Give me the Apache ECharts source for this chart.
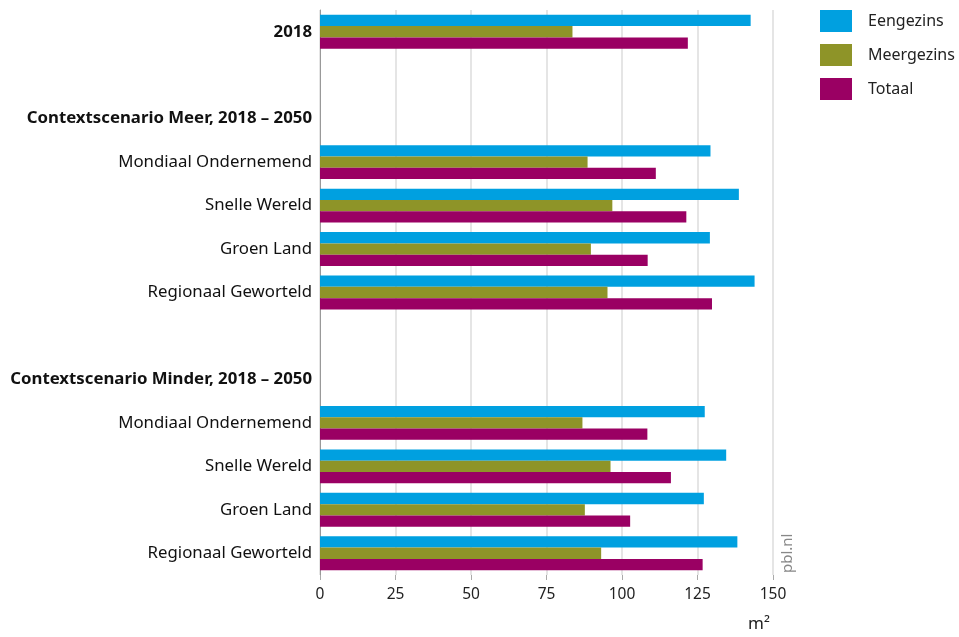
<!DOCTYPE html>
<html>
<head>
<meta charset="utf-8">
<script src="https://cdn.jsdelivr.net/npm/echarts@6/dist/echarts.min.js"></script>
<style>
  html, body { margin: 0; padding: 0; background: #fff; }
  #chart { width: 959px; height: 637px; }
</style>
</head>
<body>
<div id="chart"></div>
<script>
// Gemiddelde woninggrootte (m²) per woningtype en scenario
const categories = [
  '2018',
  '',
  'Contextscenario Meer, 2018 – 2050',
  'Mondiaal Ondernemend',
  'Snelle Wereld',
  'Groen Land',
  'Regionaal Geworteld',
  '',
  'Contextscenario Minder, 2018 – 2050',
  'Mondiaal Ondernemend',
  'Snelle Wereld',
  'Groen Land',
  'Regionaal Geworteld'
];
const headerRows = [0, 2, 8];

const seriesNames = ['Eengezins', 'Meergezins', 'Totaal'];
const eengezins  = [142.6, null, null, 129.3, 138.7, 129.1, 143.9, null, null, 127.4, 134.5, 127.1, 138.2];
const meergezins = [83.6,  null, null, 88.6,  96.8,  89.7,  95.2,  null, null, 86.9,  96.2,  87.7,  93.1];
const totaal     = [121.8, null, null, 111.2, 121.3, 108.5, 129.8, null, null, 108.4, 116.2, 102.7, 126.7];

const xTicks = [0, 25, 50, 75, 100, 125, 150];
const unitLabel = 'm²';
const sourceLabel = 'pbl.nl';

const colors = ['#00a0e0', '#8e9428', '#9a0063'];
const fontFamily = '"Noto Sans", "Open Sans", sans-serif';

const chart = echarts.init(document.getElementById('chart'), null, { renderer: 'canvas' });

const barSeries = [eengezins, meergezins, totaal].map((vals, i) => ({
  name: seriesNames[i],
  type: 'bar',
  data: vals,
  barGap: '0%',
  barCategoryGap: '22%',
  itemStyle: { color: colors[i] },
  emphasis: { disabled: true }
}));

chart.setOption({
  animation: false,
  textStyle: { fontFamily: fontFamily },
  grid: { left: 320, right: 186, top: 10, bottom: 62, containLabel: false },
  legend: {
    orient: 'vertical',
    left: 820,
    top: 10,
    padding: 0,
    itemWidth: 32,
    itemHeight: 22,
    itemGap: 12,
    icon: 'rect',
    data: seriesNames,
    textStyle: { fontSize: 16, color: '#222', padding: [0, 0, 0, 11], fontFamily: fontFamily }
  },
  xAxis: {
    type: 'value',
    min: xTicks[0],
    max: xTicks[xTicks.length - 1],
    interval: 25,
    axisLine: { show: false },
    axisTick: { show: true, length: 5, lineStyle: { color: '#aaa' } },
    splitLine: { show: true, lineStyle: { color: '#dcdcdc', width: 1.5 } },
    axisLabel: { fontSize: 15.5, color: '#222', margin: 12, fontFamily: fontFamily }
  },
  yAxis: {
    type: 'category',
    inverse: true,
    data: categories,
    axisLine: { show: true, lineStyle: { color: '#999', width: 1 } },
    axisTick: { show: false },
    splitLine: { show: false },
    axisLabel: {
      margin: 8,
      fontSize: 16.8,
      color: '#111',
      fontFamily: fontFamily,
      formatter: (value, index) => headerRows.includes(index) ? '{b|' + value + '}' : value,
      rich: {
        b: { fontWeight: 'bold', fontSize: 16.8, color: '#111', fontFamily: fontFamily }
      }
    }
  },
  series: barSeries,
  graphic: [
    {
      type: 'text',
      left: 748,
      top: 616,
      style: { text: unitLabel, fontSize: 17, fill: '#222', fontFamily: fontFamily }
    },
    {
      type: 'text',
      x: 780,
      y: 573,
      rotation: Math.PI / 2,
      style: { text: sourceLabel, fontSize: 15, fill: '#888', fontFamily: fontFamily }
    }
  ]
});
</script>
</body>
</html>
